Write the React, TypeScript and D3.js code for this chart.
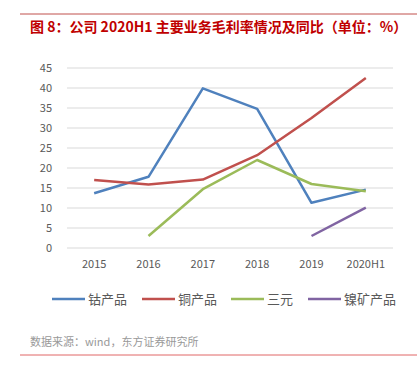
import React from "react";
import * as d3 from "d3";

const categories = ["2015", "2016", "2017", "2018", "2019", "2020H1"];
const cobalt: (number | null)[] = [13.7, 17.8, 39.9, 34.8, 11.3, 14.6];
const copper: (number | null)[] = [17.0, 15.9, 17.1, 23.2, 32.5, 42.5];
const ternary: (number | null)[] = [null, 3.0, 14.7, 22.0, 16.0, 14.2];
const nickel: (number | null)[] = [null, null, null, null, 3.0, 10.1];
const yTicks = [0, 5, 10, 15, 20, 25, 30, 35, 40, 45];
const seriesNames = ["钴产品", "铜产品", "三元", "镍矿产品"];
const seriesColors = ["#4f81bd", "#c0504d", "#9bbb59", "#8064a2"];

export default function App() {
  const W = 417, H = 367;
  const x = d3.scaleBand<string>().domain(categories).range([67, 393]);
  const y = d3.scaleLinear().domain([0, 45]).range([248, 68]);
  const allSeries = [cobalt, copper, ternary, nickel];
  const line = d3
    .line<number | null>()
    .defined((d) => d !== null)
    .x((_, i) => (x(categories[i]) as number) + x.bandwidth() / 2)
    .y((d) => y(d as number));
  const legendX = [52, 142, 231, 308];
  const font = "'Microsoft YaHei', 'Noto Sans CJK SC', 'Noto Sans', sans-serif";
  return (
    <svg width={W} height={H} style={{ position: "absolute", left: 0, top: 0, background: "#fff" }} fontFamily={font}>
      <line x1={20} x2={417} y1={14} y2={14} stroke="#c0504d" strokeWidth={1} />
      <text x={30} y={32} fontSize={14} fontWeight="bold" fill="#c00000">
        图 8：公司 2020H1 主要业务毛利率情况及同比（单位：%）
      </text>
      {yTicks.map((t) => (
        <g key={t}>
          <line x1={67} x2={393} y1={y(t)} y2={y(t)} stroke="#d9d9d9" strokeWidth={1} />
          <text x={52} y={y(t)} dy="0.35em" textAnchor="end" fontSize={11} fill="#595959">
            {t}
          </text>
        </g>
      ))}
      {categories.map((c) => (
        <text key={c} x={(x(c) as number) + x.bandwidth() / 2} y={268} textAnchor="middle" fontSize={11} fill="#595959">
          {c}
        </text>
      ))}
      {allSeries.map((s, i) => (
        <path key={i} d={line(s) || ""} fill="none" stroke={seriesColors[i]} strokeWidth={2.5} strokeLinejoin="round" />
      ))}
      {seriesNames.map((n, i) => (
        <g key={n}>
          <line x1={legendX[i]} x2={legendX[i] + 33} y1={299} y2={299} stroke={seriesColors[i]} strokeWidth={2.5} />
          <text x={legendX[i] + 36} y={299} dy="0.35em" fontSize={13} fill="#595959">
            {n}
          </text>
        </g>
      ))}
      <text x={30} y={342} dy="0.35em" fontSize={11} fill="#999999">
        数据来源：wind，东方证券研究所
      </text>
      <line x1={20} x2={417} y1={355} y2={355} stroke="#e06666" strokeWidth={1} />
    </svg>
  );
}
